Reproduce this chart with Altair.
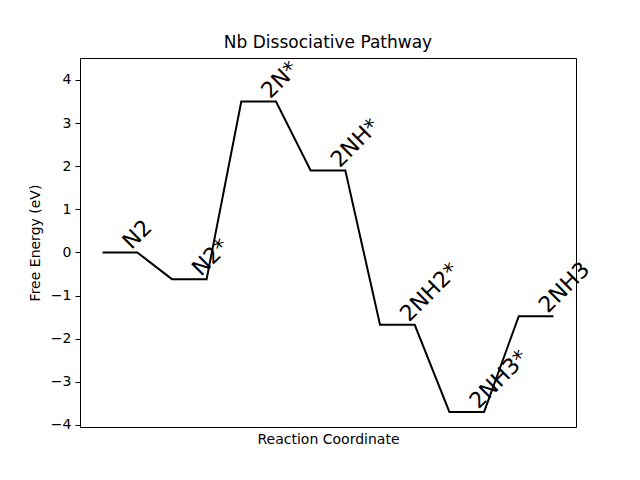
import altair as alt
import pandas as pd

states = ["N2", "N2*", "2N*", "2NH*", "2NH2*", "2NH3*", "2NH3"]
energies = [0.0, -0.62, 3.5, 1.9, -1.68, -3.7, -1.48]
y_ticks = [-4, -3, -2, -1, 0, 1, 2, 3, 4]

rows = []
order = 0
for i, (s, e) in enumerate(zip(states, energies)):
    for k in (0, 1):
        rows.append({"x": 2 * i + k, "y": e, "order": order})
        order += 1
line_df = pd.DataFrame(rows)
label_df = pd.DataFrame({"x": [2 * i for i in range(len(states))],
                         "y": energies, "label": states})

FONT = "DejaVu Sans"
xscale = alt.Scale(domain=[-0.65, 13.65], nice=False, zero=False)
yscale = alt.Scale(domain=[-4.05, 4.51], nice=False, zero=False)

xenc = alt.X("x:Q", scale=xscale,
             axis=alt.Axis(title="Reaction Coordinate", labels=False, ticks=False,
                           domain=False, grid=False, titleFont=FONT, titleFontSize=14,
                           titleFontWeight="normal", titleColor="black", titlePadding=5))
yenc = alt.Y("y:Q", scale=yscale,
             axis=alt.Axis(title="Free Energy (eV)", values=y_ticks, format="d",
                           grid=False, domain=False, tickColor="black", tickSize=5,
                           labelFont=FONT, labelFontSize=14, labelColor="black",
                           labelPadding=4, titleFont=FONT, titleFontSize=14,
                           titleFontWeight="normal", titleColor="black", titlePadding=8))

lines = alt.Chart(line_df).mark_line(color="black", strokeWidth=2).encode(
    x=xenc, y=yenc, order="order:Q")

labels = alt.Chart(label_df).mark_text(
    angle=315, align="left", baseline="alphabetic", dx=22, dy=19,
    font=FONT, fontSize=22, color="black").encode(
    x=alt.X("x:Q", scale=xscale), y=alt.Y("y:Q", scale=yscale), text="label:N")

chart = (lines + labels).properties(
    width=496, height=369,
    autosize=alt.AutoSizeParams(type="none"),
    padding={"left": 80, "top": 58, "right": 64, "bottom": 53},
    title=alt.TitleParams("Nb Dissociative Pathway", font=FONT, fontSize=17,
                          fontWeight="normal", color="black", offset=5),
).configure(background="white").configure_view(stroke="black", strokeWidth=1, strokeOpacity=1)

chart.save("out.html", embed_options={"renderer": "svg", "actions": False})
